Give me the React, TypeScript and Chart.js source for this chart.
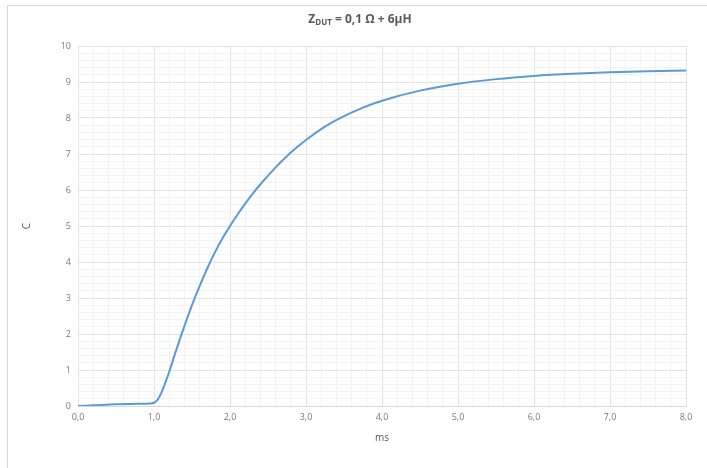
import React, { useEffect, useRef } from "react";
import { Chart, registerables } from "chart.js";

Chart.register(...registerables);

const timeMs: number[] = [
  0.0, 0.2, 0.5, 0.8, 0.95, 1.0, 1.05, 1.1, 1.15, 1.2, 1.3, 1.4, 1.5, 1.6, 1.7, 1.8, 1.9, 2.0,
  2.1, 2.2, 2.3, 2.4, 2.5, 2.6, 2.7, 2.8, 2.9, 3.0, 3.25, 3.5, 3.75, 4.0, 4.5, 5.0, 5.5, 6.0, 6.5,
  7.0, 7.5, 8.0,
];
const chargeC: number[] = [
  0.0, 0.02, 0.05, 0.06, 0.07, 0.09, 0.18, 0.38, 0.65, 0.95, 1.6, 2.22, 2.8, 3.33, 3.82, 4.26, 4.65, 5.0,
  5.32, 5.62, 5.9, 6.16, 6.4, 6.63, 6.84, 7.04, 7.22, 7.39, 7.76, 8.05, 8.29, 8.48, 8.76, 8.95, 9.08, 9.17, 9.23,
  9.27, 9.3, 9.32,
];
const xTickMin = 0;
const xTickMax = 8;
const yTickMin = 0;
const yTickMax = 10;
const minorStep = 0.2;
const xAxisTitle = "ms";
const yAxisTitle = "C";

const isMajor = (v: number) => Math.abs(v - Math.round(v)) < 1e-6;

export default function App() {
  const canvasRef = useRef<HTMLCanvasElement | null>(null);

  useEffect(() => {
    document.body.style.margin = "0";
    const ctx = canvasRef.current;
    if (!ctx) return;
    const tickFont = { family: "'Open Sans', 'Liberation Sans', sans-serif", size: 9 };
    const chart = new Chart(ctx, {
      type: "line",
      data: {
        datasets: [
          {
            data: timeMs.map((t, i) => ({ x: t, y: chargeC[i] })),
            borderColor: "#5b9bd5",
            borderWidth: 2,
            pointRadius: 0,
            cubicInterpolationMode: "monotone",
            fill: false,
          },
        ],
      },
      options: {
        animation: false,
        responsive: false,
        maintainAspectRatio: false,
        layout: { padding: { left: 0, top: 46, right: 21, bottom: 0 } },
        plugins: { legend: { display: false }, tooltip: { enabled: false } },
        scales: {
          x: {
            type: "linear",
            min: xTickMin,
            max: xTickMax,
            afterFit: (s: any) => {
              s.height = 62;
            },
            border: { display: true, color: "#d9d9d9" },
            grid: {
              drawTicks: false,
              color: (c: any) => (isMajor(c.tick.value) ? "#e3e3e3" : "#f3f3f3"),
            },
            ticks: {
              stepSize: minorStep,
              autoSkip: false,
              maxRotation: 0,
              padding: 6,
              color: "#7a7a7a",
              font: tickFont,
              callback: (v: any) => (isMajor(Number(v)) ? Number(v).toFixed(1).replace(".", ",") : ""),
            },
            title: {
              display: true,
              text: xAxisTitle,
              color: "#595959",
              font: { family: "'Open Sans', 'Liberation Sans', sans-serif", size: 10 },
              padding: { top: 0, bottom: 24 },
            },
          },
          y: {
            type: "linear",
            min: yTickMin,
            max: yTickMax,
            afterFit: (s: any) => {
              s.width = 78;
            },
            border: { display: false },
            grid: {
              drawTicks: false,
              color: (c: any) => (isMajor(c.tick.value) ? "#e3e3e3" : "#f3f3f3"),
            },
            ticks: {
              stepSize: minorStep,
              autoSkip: false,
              padding: 7,
              color: "#7a7a7a",
              font: tickFont,
              callback: (v: any) => (isMajor(Number(v)) ? String(Math.round(Number(v))) : ""),
            },
            title: {
              display: true,
              text: yAxisTitle,
              color: "#595959",
              font: { family: "'Open Sans', 'Liberation Sans', sans-serif", size: 10 },
              padding: { top: 21, bottom: 0 },
            },
          },
        },
      },
    } as any);
    return () => chart.destroy();
  }, []);

  return (
    <div style={{ position: "relative", width: 707, height: 468, background: "#fff", overflow: "hidden" }}>
      <div
        style={{
          position: "absolute",
          left: 7,
          top: 5,
          width: 720,
          height: 480,
          borderTop: "1px solid #d9d9d9",
          borderLeft: "1px solid #d9d9d9",
        }}
      />
      <canvas ref={canvasRef} width={707} height={468} style={{ position: "absolute", left: 0, top: 0 }} />
      <div
        style={{
          position: "absolute",
          left: 260,
          width: 200,
          top: 11,
          textAlign: "center",
          fontFamily: "'Open Sans', 'Liberation Sans', sans-serif",
          fontWeight: "bold",
          fontSize: 12,
          color: "#595959",
          lineHeight: "16px",
        }}
      >
        Z<sub style={{ fontSize: 8, verticalAlign: "-2px" }}>DUT</sub> = 0,1 Ω + 6µH
      </div>
    </div>
  );
}
